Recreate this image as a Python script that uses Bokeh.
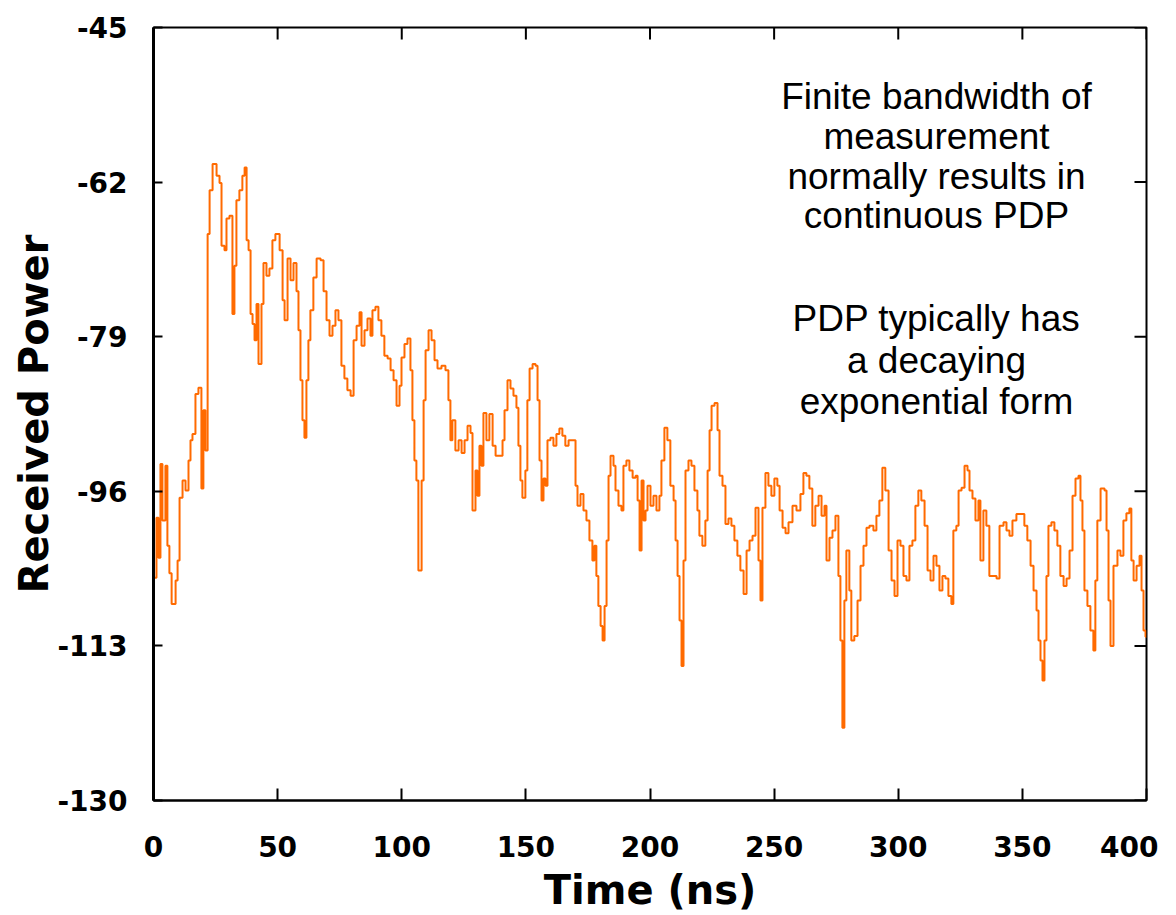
import math
from bokeh.plotting import figure
from bokeh.models import Range1d, FixedTicker, Label
from bokeh.embed import file_html
from bokeh.resources import INLINE

# ---- data (time in ns, received power in dB) ----
time_ns = [
    0, 1.2, 2.0, 2.8, 3.6, 4.8, 5.6, 6.4, 7.3, 8.9, 9.7, 10.5, 11.7, 12.9, 14.1, 14.9, 15.7, 16.9, 18.1, 19.3,
    20.1, 20.9, 21.8, 22.6, 23.8, 25.4, 26.6, 27.4, 28.6, 29.4, 30.6, 31.8, 32.6, 33.4, 34.6, 35.8, 36.7, 37.5, 38.3, 39.1,
    39.9, 40.7, 41.5, 42.3, 43.5, 44.3, 45.5, 46.7, 47.9, 49.1, 50.8, 52.0, 52.8, 54.0, 55.2, 56.4, 57.6, 58.4, 59.2, 60.0,
    60.8, 61.6, 62.4, 63.2, 64.4, 65.7, 67.3, 68.5, 69.7, 70.9, 72.1, 73.3, 74.5, 75.7, 76.9, 78.1, 79.4, 80.6, 81.8, 83.0,
    83.8, 85.0, 86.2, 87.4, 88.2, 89.4, 90.6, 91.8, 93.0, 94.3, 95.5, 96.7, 97.9, 99.1, 99.9, 101.1, 102.3, 103.5, 104.3, 105.1,
    105.9, 106.7, 108.0, 108.8, 109.6, 110.8, 112.0, 113.2, 114.4, 116.0, 117.6, 118.8, 119.6, 120.4, 121.6, 122.9, 124.1, 125.3, 126.5, 127.7,
    128.5, 129.7, 130.5, 131.3, 132.1, 132.9, 134.1, 135.3, 136.6, 137.8, 139.4, 140.6, 141.4, 142.6, 143.8, 145.0, 146.2, 147.0, 147.8, 148.6,
    149.8, 150.6, 151.5, 152.7, 153.9, 154.7, 155.5, 156.3, 157.1, 157.9, 158.7, 159.9, 161.1, 162.3, 163.5, 164.7, 165.9, 167.2, 168.8, 170.0,
    170.8, 172.0, 173.2, 174.4, 175.6, 176.8, 177.6, 178.4, 179.2, 180.1, 180.9, 181.7, 182.5, 183.3, 184.1, 185.3, 186.1, 187.3, 188.5, 189.3,
    190.5, 191.7, 193.0, 194.2, 195.0, 195.8, 196.6, 197.4, 198.2, 199.0, 200.2, 201.4, 202.6, 203.8, 204.6, 205.8, 207.0, 208.2, 209.5, 210.3,
    211.1, 211.9, 212.7, 213.5, 214.3, 215.5, 216.7, 217.9, 219.1, 219.9, 221.1, 222.3, 223.2, 224.0, 224.8, 226.0, 227.2, 228.0, 229.2, 230.4,
    231.6, 232.8, 234.0, 235.2, 236.4, 237.7, 238.9, 240.1, 241.3, 242.5, 243.7, 244.5, 245.3, 246.5, 247.7, 248.9, 250.1, 251.3, 252.2, 253.4,
    254.6, 255.8, 257.4, 259.0, 260.6, 261.8, 263.0, 264.2, 265.4, 266.6, 267.9, 269.1, 270.3, 271.1, 272.3, 273.5, 274.7, 275.9, 276.7, 277.5,
    278.3, 279.1, 280.3, 281.1, 282.3, 283.6, 284.8, 286.0, 287.2, 288.4, 290.0, 291.2, 292.4, 293.6, 294.8, 296.1, 297.3, 298.5, 299.7, 300.9,
    302.1, 303.3, 304.5, 305.7, 306.9, 308.1, 309.3, 310.6, 311.8, 313.0, 314.2, 315.4, 316.6, 317.8, 319.0, 320.2, 321.4, 322.2, 323.4, 324.3,
    325.5, 326.7, 327.9, 328.7, 329.9, 331.1, 332.3, 333.1, 334.3, 335.5, 336.7, 338.0, 339.6, 340.8, 342.4, 343.6, 344.8, 346.0, 347.6, 349.2,
    350.8, 352.0, 353.3, 354.5, 355.7, 356.5, 357.3, 358.1, 358.9, 359.7, 360.5, 361.7, 362.9, 364.1, 365.3, 366.6, 367.8, 369.0, 370.2, 371.4,
    372.6, 373.4, 374.2, 375.0, 376.2, 377.4, 378.6, 379.4, 380.2, 381.5, 383.1, 383.9, 384.7, 385.5, 386.7, 388.3, 389.5, 390.7, 391.9, 393.1,
    393.9, 394.8, 396.0, 397.2, 398.0, 398.8, 399.6, 400.0,
]
power_db = [
    -105.5, -98.9, -103.3, -93.0, -99.2, -93.2, -102.0, -105.0, -108.4, -105.8, -103.6, -96.7, -94.8, -95.9, -92.6, -90.4, -89.7, -85.3, -84.6, -95.7,
    -87.1, -91.5, -67.7, -62.9, -60.0, -61.3, -62.1, -69.0, -69.5, -66.0, -65.7, -76.5, -71.2, -64.0, -62.9, -61.3, -60.4, -68.4, -69.5, -76.5,
    -77.6, -79.4, -75.4, -82.0, -75.4, -70.9, -72.3, -71.5, -68.4, -67.7, -69.5, -75.0, -77.2, -70.4, -72.8, -70.9, -74.0, -78.3, -83.8, -88.2,
    -90.1, -83.8, -79.4, -76.1, -72.5, -70.4, -70.6, -74.0, -77.2, -78.9, -77.8, -76.1, -77.2, -82.2, -83.6, -84.9, -85.5, -79.4, -77.8, -76.3,
    -80.0, -78.3, -77.0, -78.9, -76.1, -75.7, -77.2, -78.9, -81.1, -81.4, -82.7, -83.8, -86.6, -84.4, -81.3, -79.8, -79.2, -82.7, -88.2, -92.6,
    -94.8, -104.7, -94.8, -86.0, -80.5, -78.3, -79.4, -81.6, -82.5, -82.2, -82.7, -86.0, -90.4, -88.2, -91.5, -90.4, -91.8, -90.4, -88.8, -89.6,
    -98.1, -93.7, -96.5, -91.0, -93.2, -87.4, -90.4, -87.5, -91.0, -92.1, -92.1, -90.4, -87.1, -83.8, -84.7, -85.5, -86.8, -91.0, -94.8, -96.7,
    -93.7, -86.0, -82.5, -82.0, -82.2, -86.0, -92.6, -97.0, -94.6, -95.4, -90.4, -90.1, -91.0, -89.7, -89.1, -89.9, -91.0, -90.4, -90.4, -95.4,
    -97.6, -96.3, -98.1, -99.2, -101.4, -103.6, -102.0, -105.3, -108.6, -110.8, -112.4, -108.6, -101.4, -94.3, -92.1, -93.2, -95.9, -97.6, -98.1, -93.2,
    -92.6, -93.7, -94.5, -94.3, -97.0, -102.5, -94.8, -99.2, -98.1, -95.4, -97.6, -96.5, -98.1, -96.5, -92.6, -89.0, -90.4, -95.4, -97.0, -101.4,
    -105.3, -110.2, -115.2, -103.6, -93.7, -92.6, -93.2, -95.9, -98.1, -100.9, -102.0, -99.2, -93.7, -89.3, -86.6, -86.3, -89.3, -94.3, -95.4, -99.6,
    -99.0, -99.8, -101.4, -103.1, -104.7, -107.3, -102.5, -101.4, -100.9, -97.8, -103.6, -108.0, -97.8, -94.0, -95.4, -96.5, -94.6, -95.4, -98.1, -100.0,
    -100.6, -99.4, -97.6, -98.1, -96.3, -94.0, -94.3, -95.7, -99.8, -97.6, -96.5, -98.7, -97.6, -103.6, -101.1, -100.3, -98.7, -105.3, -112.4, -122.0,
    -108.0, -102.5, -106.9, -112.4, -111.9, -108.0, -104.2, -102.0, -100.0, -99.8, -100.3, -98.7, -97.0, -93.4, -95.9, -102.5, -105.8, -107.5, -101.4, -102.0,
    -105.3, -105.8, -102.0, -101.4, -97.6, -95.9, -97.0, -99.8, -104.7, -105.8, -103.1, -104.2, -106.9, -105.3, -105.6, -107.5, -108.4, -100.3, -99.8, -95.9,
    -95.6, -93.2, -93.7, -95.9, -96.8, -99.2, -97.0, -103.6, -98.1, -99.8, -105.3, -105.3, -105.6, -99.8, -99.4, -100.3, -100.9, -99.2, -98.5, -98.5,
    -99.8, -101.4, -104.2, -106.9, -109.1, -112.4, -114.6, -116.8, -112.4, -105.3, -99.8, -99.4, -100.3, -102.0, -105.3, -106.4, -105.6, -102.5, -96.5, -94.6,
    -94.3, -97.0, -100.3, -106.9, -108.6, -111.3, -113.5, -105.8, -99.2, -95.7, -95.9, -100.3, -108.0, -113.0, -104.2, -102.5, -103.1, -99.2, -98.4, -97.9,
    -103.6, -105.8, -104.2, -103.1, -106.9, -111.3, -112.0, -112.0,
]

x_ticks = [0, 50, 100, 150, 200, 250, 300, 350, 400]
y_ticks = [-130, -113, -96, -79, -62, -45]

x_title = "Time (ns)"
y_title = "Received Power"

note_block_1 = ["Finite bandwidth of", "measurement", "normally results in", "continuous PDP"]
note_block_1_y = [-52.64, -57.04, -61.33, -65.62]
note_block_2 = ["PDP typically has", "a decaying", "exponential form"]
note_block_2_y = [-77.05, -81.67, -86.18]
note_x = 315.4

ORANGE = "#FF6A00"
TICK_FONT = "DejaVu Sans"

p = figure(
    width=1158, height=915,
    x_range=Range1d(x_ticks[0], x_ticks[-1]), y_range=Range1d(y_ticks[0], y_ticks[-1]),
    output_backend="svg", toolbar_location=None,
    min_border_left=153, min_border_right=12, min_border_top=27, min_border_bottom=115,
)
p.xgrid.visible = False
p.ygrid.visible = False
p.outline_line_color = "black"
p.outline_line_width = 2
p.background_fill_color = "white"
p.border_fill_color = "white"

p.step(time_ns, power_db, mode="after", line_color=ORANGE, line_width=2)

# inward tick marks on the top and right edges of the frame
p.ray(x=x_ticks, y=[y_ticks[-1]] * len(x_ticks), length=12, length_units="screen",
      angle=-math.pi / 2, line_color="black", line_width=2)
p.ray(x=[x_ticks[-1]] * len(y_ticks), y=y_ticks, length=12, length_units="screen",
      angle=math.pi, line_color="black", line_width=2)

# bottom axis
xa = p.xaxis[0]
xa.ticker = FixedTicker(ticks=x_ticks)
xa.axis_label = x_title
xa.axis_label_text_font = TICK_FONT
xa.axis_label_text_font_style = "bold"
xa.axis_label_text_font_size = "40px"
xa.axis_label_text_color = "black"
xa.axis_label_standoff = 7
xa.major_label_text_font = TICK_FONT
xa.major_label_text_font_style = "bold"
xa.major_label_text_font_size = "28px"
xa.major_label_text_color = "black"
xa.major_label_standoff = 35
xa.major_tick_in = 12
xa.major_tick_out = 0
xa.major_tick_line_width = 2
xa.major_tick_line_color = "black"
xa.minor_tick_line_color = None
xa.axis_line_width = 2
xa.axis_line_color = "black"

# left axis
ya = p.yaxis[0]
ya.ticker = FixedTicker(ticks=y_ticks)
ya.major_label_overrides = {v: str(v) for v in y_ticks}
ya.axis_label = y_title
ya.axis_label_text_font = TICK_FONT
ya.axis_label_text_font_style = "bold"
ya.axis_label_text_font_size = "40px"
ya.axis_label_text_color = "black"
ya.axis_label_standoff = -3
ya.major_label_text_font = TICK_FONT
ya.major_label_text_font_style = "bold"
ya.major_label_text_font_size = "28px"
ya.major_label_text_color = "black"
ya.major_label_standoff = 26
ya.major_tick_in = 9
ya.major_tick_out = 0
ya.major_tick_line_width = 2
ya.major_tick_line_color = "black"
ya.minor_tick_line_color = None
ya.axis_line_width = 3
ya.axis_line_color = "black"

for txt, yv in zip(note_block_1 + note_block_2, note_block_1_y + note_block_2_y):
    p.add_layout(Label(x=note_x, y=yv, text=txt, text_align="center", text_baseline="middle",
                       text_font="Liberation Sans", text_font_size="37px", text_color="black"))

open("out.html", "w").write(file_html(p, INLINE))
